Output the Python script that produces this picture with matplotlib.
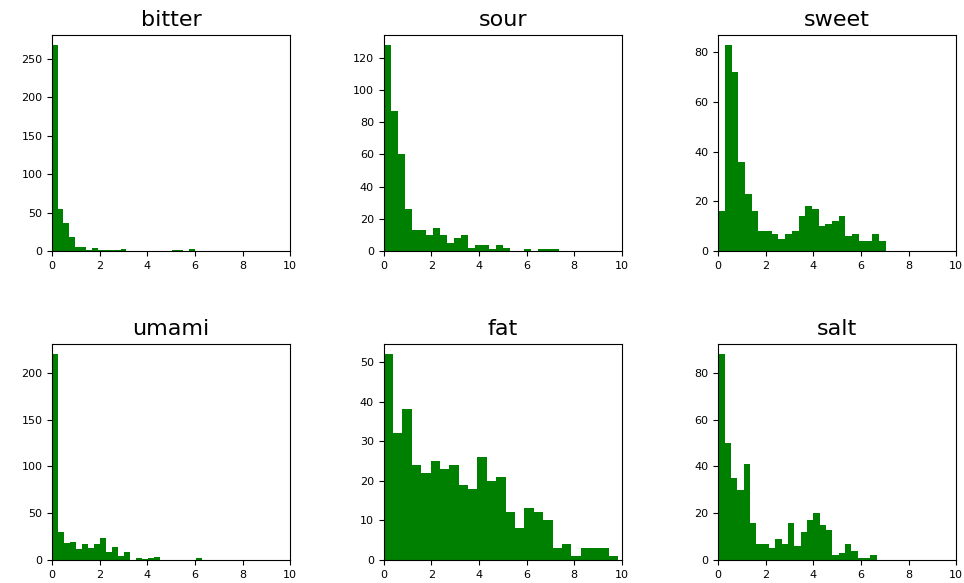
import matplotlib
matplotlib.use('Agg')
import matplotlib.pyplot as plt
from matplotlib.ticker import MultipleLocator
import numpy as np

## Taste histograms, 25 bins each from 0 to the max value of the column ##
tastes = ['bitter', 'sour', 'sweet', 'umami', 'fat', 'salt']

bitter_max = 6.0
bitter_counts = [268, 54, 37, 18, 5, 5, 1, 4, 1, 1, 1, 1, 3, 0, 0, 0, 0, 0, 0, 0, 0, 1, 1, 0, 2]

sour_max = 7.35
sour_counts = [128, 87, 60, 26, 13, 13, 10, 14, 10, 5, 8, 10, 2, 4, 4, 1, 4, 2, 0, 0, 1, 0, 1, 1, 1]

sweet_max = 7.03
sweet_counts = [16, 83, 72, 36, 23, 16, 8, 8, 7, 5, 7, 8, 14, 18, 17, 10, 11, 12, 14, 6, 7, 4, 4, 7, 4]

umami_max = 6.3
umami_counts = [220, 30, 18, 19, 12, 17, 13, 17, 23, 8, 14, 4, 9, 0, 2, 1, 2, 3, 0, 0, 0, 0, 0, 0, 2]

fat_max = 9.85
fat_counts = [52, 32, 38, 24, 22, 25, 23, 24, 19, 18, 26, 20, 21, 12, 8, 13, 12, 10, 3, 4, 1, 3, 3, 3, 1]

salt_max = 6.66
salt_counts = [88, 50, 35, 30, 41, 16, 7, 7, 5, 9, 7, 16, 6, 12, 17, 20, 15, 13, 2, 3, 7, 4, 1, 1, 2]

maxes = [bitter_max, sour_max, sweet_max, umami_max, fat_max, salt_max]
counts = [bitter_counts, sour_counts, sweet_counts, umami_counts, fat_counts, salt_counts]
ytick_steps = [50, 20, 20, 50, 10, 20]

fig = plt.figure(figsize=(9.64, 5.83), dpi=100)

# axes placement (left, bottom) in figure fraction
lefts = [0.054, 0.398, 0.745]
bottoms = [0.5695, 0.0395]
w, h = 0.247, 0.371

for i, name in enumerate(tastes):
    ax = fig.add_axes([lefts[i % 3], bottoms[i // 3], w, h])
    edges = np.linspace(0, maxes[i], len(counts[i]) + 1)
    ax.bar(edges[:-1], counts[i], width=np.diff(edges), align='edge', color='green', linewidth=0)
    ax.set_xlim(0, 10)
    ax.set_xticks([0, 2, 4, 6, 8, 10])
    ax.yaxis.set_major_locator(MultipleLocator(ytick_steps[i]))
    ax.tick_params(labelsize=8)
    ax.set_title(name, fontsize=16)

plt.savefig('out.png', dpi=100)
plt.close()
